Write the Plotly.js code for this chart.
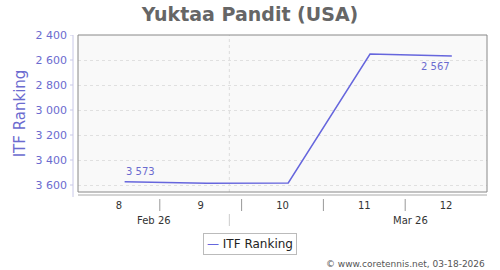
<!DOCTYPE html>
<html>
<head>
<meta charset="utf-8">
<script src="https://cdn.plot.ly/plotly-3.0.1.min.js"></script>
<style>html,body{margin:0;padding:0;background:#fff;}#chart{width:500px;height:270px;}</style>
</head>
<body>
<div id="chart"></div>
<script>
// Data
const weekPos = [8.07, 9.07, 10.07, 11.07, 12.07];
const ranking = [3573, 3585, 3583, 2552, 2567];
const weekTicks = [8, 9, 10, 11, 12];
const weekLabels = ['8', '9', '10', '11', '12'];
const weekSeparators = [8.5, 9.5, 10.5, 11.5];
const monthLabels = ['Feb 26', 'Mar 26'];
const monthLabelPos = [8.43, 11.56];
const monthBoundary = [9.35];
const yTicks = [2400, 2600, 2800, 3000, 3200, 3400, 3600];
const labeledPoints = [0, 4];

const W = 409, H = 157;
const font = 'DejaVu Sans, Verdana, sans-serif';
const blue = '#6b6bcf';
const lineColor = '#6666dd';

const shapes = [];
// plot frame
shapes.push({type:'rect', xref:'paper', yref:'paper', x0:0, x1:1, y0:0, y1:1, line:{color:'#888', width:1}, layer:'above'});
// x axis line
shapes.push({type:'line', xref:'paper', yref:'paper', x0:0, x1:1, y0:-3/H, y1:-3/H, line:{color:'#aaa', width:1}});
// y axis line
shapes.push({type:'line', xref:'paper', yref:'paper', x0:-5/W, x1:-5/W, y0:-5/H, y1:1, line:{color:'#c8c8e8', width:1}});
// y ticks
yTicks.forEach(v => shapes.push({type:'line', xref:'paper', yref:'y', x0:-8/W, x1:-5/W, y0:v, y1:v, line:{color:'#c8c8e8', width:1}}));
// week separators
weekSeparators.forEach(v => shapes.push({type:'line', xref:'x', yref:'paper', x0:v, x1:v, y0:-7/H, y1:-19/H, line:{color:'#999', width:1}}));
// month boundary
monthBoundary.forEach(v => {
  shapes.push({type:'line', xref:'x', yref:'paper', x0:v, x1:v, y0:0, y1:1, line:{color:'#dcdcdc', width:1, dash:'3px,3px'}, layer:'below'});
  shapes.push({type:'line', xref:'x', yref:'paper', x0:v, x1:v, y0:-22/H, y1:-34/H, line:{color:'#ccc', width:1}});
});

const annotations = [];
monthLabels.forEach((t, i) => annotations.push({xref:'x', yref:'paper', x:monthLabelPos[i], y:-28/H, text:t, showarrow:false, font:{family:font, size:10, color:'#333'}, xanchor:'center', yanchor:'middle'}));
function fmt(v){ return String(v).replace(/\B(?=(\d{3})+(?!\d))/g, ' '); }
annotations.push({xref:'x', yref:'y', x:weekPos[labeledPoints[0]], y:ranking[labeledPoints[0]], text:fmt(ranking[labeledPoints[0]]), showarrow:false, xanchor:'left', yanchor:'bottom', yshift:3, xshift:-1, font:{family:font, size:10, color:blue}});
annotations.push({xref:'x', yref:'y', x:weekPos[labeledPoints[1]], y:ranking[labeledPoints[1]], text:fmt(ranking[labeledPoints[1]]), showarrow:false, xanchor:'right', yanchor:'top', yshift:-3, xshift:0, font:{family:font, size:10, color:blue}});
// legend box
annotations.push({xref:'paper', yref:'paper', x:(250-78)/W, y:(192-244)/H, text:'<span style="color:'+lineColor+'">—</span> ITF Ranking', showarrow:false, xanchor:'center', yanchor:'middle', bordercolor:'#bbb', borderwidth:1, borderpad:3, bgcolor:'#fff', font:{family:font, size:12, color:'#222'}});
// footer
annotations.push({xref:'paper', yref:'paper', x:1, y:(192-264)/H, text:'© www.coretennis.net, 03-18-2026', showarrow:false, xanchor:'right', yanchor:'middle', font:{family:font, size:9, color:'#555'}});

const trace = {x:weekPos, y:ranking, type:'scatter', mode:'lines', line:{color:lineColor, width:1.5}, hoverinfo:'skip'};

const layout = {
  width:500, height:270,
  margin:{l:78, r:13, t:35, b:78},
  paper_bgcolor:'#fff', plot_bgcolor:'#f9f9f9',
  separators:'. ',
  showlegend:false,
  title:{text:'<b>Yuktaa Pandit (USA)</b>', x:0.5, xref:'container', xanchor:'center', y:1-14/270, yref:'container', yanchor:'middle', font:{family:font, size:19, color:'#666'}},
  xaxis:{range:[7.5, 12.5], tickvals:weekTicks, ticktext:weekLabels, showgrid:false, zeroline:false, showline:false, ticks:'', tickfont:{family:font, size:10, color:'#333'}, ticklabelstandoff:6, fixedrange:true},
  yaxis:{range:[3656, 2400], tickvals:yTicks, tickformat:',d', showgrid:true, gridcolor:'#e0e0e0', griddash:'3px,3px', zeroline:false, showline:false, ticks:'', ticklabelstandoff:10, tickfont:{family:font, size:11, color:blue}, title:{text:'ITF Ranking', font:{family:font, size:15, color:blue}, standoff:6}, fixedrange:true},
  shapes:shapes,
  annotations:annotations
};

Plotly.newPlot('chart', [trace], layout, {staticPlot:true, displayModeBar:false});
</script>
</body>
</html>
